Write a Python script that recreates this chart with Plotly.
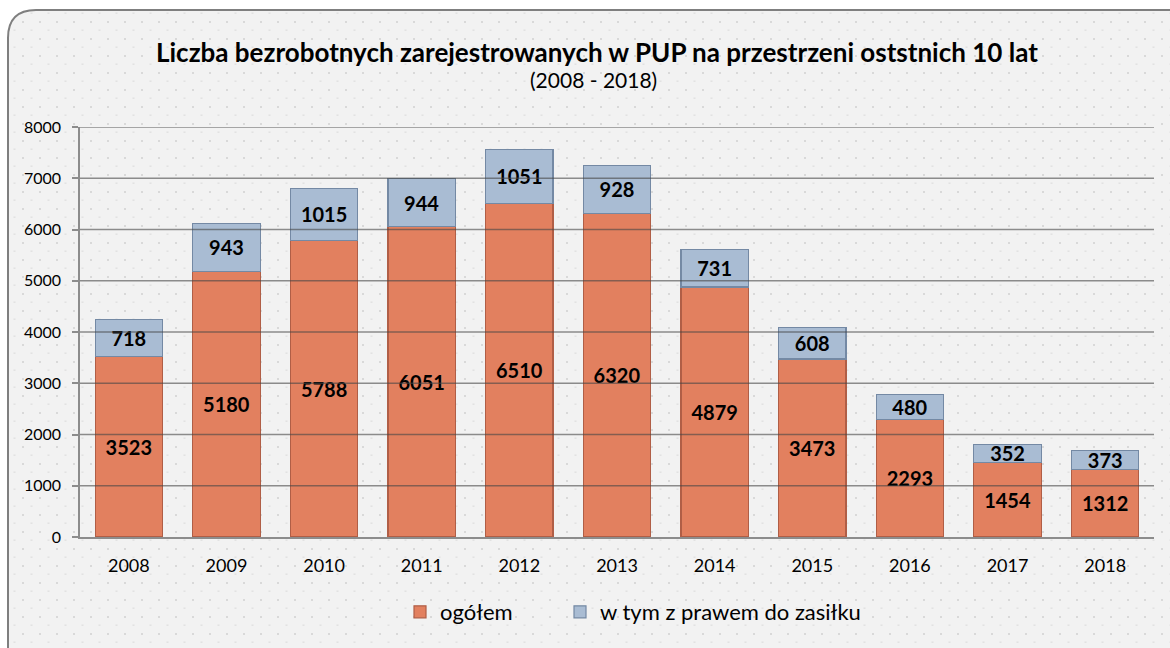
import base64
import plotly.graph_objects as go

years = ["2008", "2009", "2010", "2011", "2012", "2013", "2014", "2015", "2016", "2017", "2018"]
ogolem = [3523, 5180, 5788, 6051, 6510, 6320, 4879, 3473, 2293, 1454, 1312]
zasilek = [718, 943, 1015, 944, 1051, 928, 731, 608, 480, 352, 373]
y_ticks = [0, 1000, 2000, 3000, 4000, 5000, 6000, 7000, 8000]

W, H = 1170, 648
ML, MR, MT, MB = 80, 16, 127, 111
PW, PH = W - ML - MR, H - MT - MB

def px(x):
    return (x - ML) / PW

def py(y):
    return (H - MB - y) / PH

# background frame with dotted pattern
svg = f'''<svg xmlns="http://www.w3.org/2000/svg" width="{W}" height="{H}" viewBox="0 0 {W} {H}" preserveAspectRatio="none">
<defs><pattern id="d" width="17" height="17" patternUnits="userSpaceOnUse">
<rect x="5" y="4" width="2" height="2" fill="#d9d9d9"/>
<rect x="13.5" y="12.5" width="2" height="1.4" fill="#e0e0e0"/>
</pattern></defs>
<path d="M8,{H+20} L8,38 Q8,10 36,10 L{W+20},10 L{W+20},{H+20} Z" fill="#f2f2f2"/>
<path d="M8,{H+20} L8,38 Q8,10 36,10 L{W+20},10 L{W+20},{H+20} Z" fill="url(#d)"/>
<path d="M8,{H+20} L8,38 Q8,10 36,10 L{W+20},10" fill="none" stroke="#7f7f7f" stroke-width="2"/>
</svg>'''
src = "data:image/svg+xml;base64," + base64.b64encode(svg.encode()).decode()

fig = go.Figure()
fig.add_trace(go.Bar(
    x=years, y=ogolem, name="ogółem", legend="legend",
    marker=dict(color="#E2805F", line=dict(color="#B05E46", width=1.2)),
    text=ogolem, textposition="inside", insidetextanchor="middle",
    constraintext="none",
    textfont=dict(family="Lato", size=20, color="black", weight="bold"),
))
fig.add_trace(go.Bar(
    x=years, y=zasilek, name="w tym z prawem do zasiłku", legend="legend2",
    marker=dict(color="#A9BCD3", line=dict(color="#7489A4", width=1.2)),
    text=zasilek, textposition="inside", insidetextanchor="middle",
    constraintext="none",
    textfont=dict(family="Lato", size=20, color="black", weight="bold"),
))

shapes = []
for t in y_ticks[1:]:
    shapes.append(dict(type="line", xref="paper", yref="y", x0=0, x1=1, y0=t, y1=t,
                       line=dict(color="rgba(70,70,70,0.6)", width=1.5), layer="above"))

legend_common = dict(orientation="h", xanchor="left", y=py(612), yanchor="middle",
                     itemwidth=30, font=dict(size=22, family="Lato"),
                     bgcolor="rgba(0,0,0,0)", itemclick=False, itemdoubleclick=False)

fig.update_layout(
    width=W, height=H,
    margin=dict(l=ML, r=MR, t=MT, b=MB),
    paper_bgcolor="white",
    plot_bgcolor="rgba(255,255,255,0.35)",
    barmode="stack", bargap=0.31,
    font=dict(family="Lato", color="black"),
    showlegend=True,
    legend=dict(x=px(400), **legend_common),
    legend2=dict(x=px(560), **legend_common),
    images=[dict(source=src, xref="paper", yref="paper", x=px(0), y=py(0),
                 sizex=W / PW, sizey=H / PH, xanchor="left", yanchor="top",
                 sizing="stretch", layer="below")],
    shapes=shapes,
    annotations=[
        dict(text="<b>Liczba bezrobotnych zarejestrowanych w PUP na przestrzeni oststnich 10 lat</b>",
             xref="paper", yref="paper", x=px(597), y=py(52), showarrow=False,
             xanchor="center", yanchor="middle", font=dict(size=26, family="Lato")),
        dict(text="(2008 - 2018)", xref="paper", yref="paper", x=px(593), y=py(80),
             showarrow=False, xanchor="center", yanchor="middle", font=dict(size=21, family="Lato")),
    ],
)
fig.update_xaxes(showgrid=False, showline=True, linecolor="#8c8c8c", linewidth=1.5,
                 ticks="", tickfont=dict(size=18), ticklabelstandoff=12)
fig.update_yaxes(range=[0, 8000], tickvals=y_ticks, showgrid=False, showline=True,
                 linecolor="#8c8c8c", linewidth=1.5, ticks="outside", ticklen=6,
                 tickcolor="#8c8c8c", tickwidth=1.5, tickfont=dict(size=16), zeroline=False,
                 ticklabelstandoff=8)

fig.write_html("out.html", config={"displayModeBar": False},
               post_script="document.body.style.margin='0';document.body.style.padding='0';")
